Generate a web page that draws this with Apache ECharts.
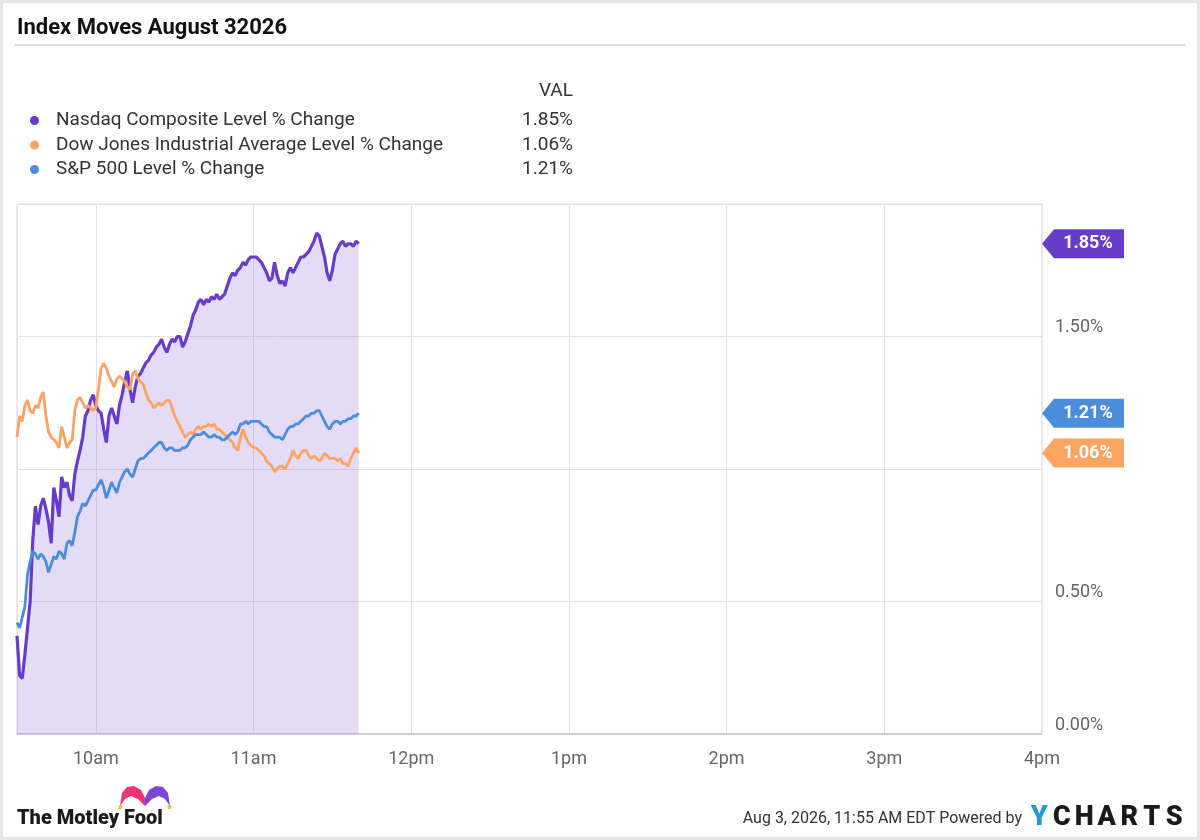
<!DOCTYPE html>
<html>
<head>
<meta charset="utf-8">
<script src="https://cdn.jsdelivr.net/npm/echarts@6.0.0/dist/echarts.min.js"></script>
<style>
  html, body { margin: 0; padding: 0; background: #ffffff; }
  #chart { width: 1200px; height: 840px; }
</style>
</head>
<body>
<div id="chart"></div>
<script>
// ---- Data ----
const seriesNames = [
  'Nasdaq Composite Level % Change',
  'Dow Jones Industrial Average Level % Change',
  'S&P 500 Level % Change'
];
const seriesColors = ['#673ccb', '#fda463', '#4a8ddc'];
const sessionStart = '09:30';
const sessionEnd = '16:00';
const stepMinutes = 1; // one reading per minute from 09:30

const nasdaq = [
  0.37,0.22,0.21,0.30,0.40,0.50,0.73,0.86,0.79,0.86,
  0.89,0.85,0.80,0.72,0.93,0.88,0.82,0.97,0.93,0.95,
  0.90,0.88,0.98,1.03,1.07,1.12,1.20,1.22,1.26,1.28,
  1.24,1.22,1.21,1.15,1.10,1.20,1.23,1.20,1.17,1.24,
  1.28,1.33,1.37,1.30,1.25,1.31,1.35,1.36,1.38,1.40,
  1.41,1.43,1.44,1.46,1.47,1.49,1.46,1.44,1.47,1.49,
  1.48,1.50,1.50,1.46,1.48,1.51,1.54,1.58,1.60,1.63,
  1.64,1.62,1.64,1.63,1.65,1.64,1.66,1.64,1.65,1.66,
  1.69,1.72,1.74,1.73,1.75,1.76,1.78,1.77,1.79,1.80,
  1.80,1.80,1.79,1.78,1.76,1.74,1.71,1.72,1.78,1.73,
  1.70,1.71,1.69,1.74,1.76,1.74,1.76,1.78,1.80,1.80,
  1.81,1.82,1.84,1.86,1.89,1.88,1.84,1.80,1.74,1.71,
  1.75,1.81,1.83,1.85,1.86,1.84,1.85,1.85,1.84,1.86,
  1.85
];
const dow = [
  1.12,1.20,1.18,1.24,1.26,1.22,1.21,1.24,1.23,1.27,
  1.29,1.20,1.14,1.12,1.11,1.10,1.08,1.16,1.12,1.08,
  1.10,1.11,1.22,1.26,1.27,1.25,1.23,1.24,1.23,1.22,
  1.23,1.30,1.38,1.40,1.38,1.35,1.33,1.31,1.34,1.35,
  1.34,1.33,1.31,1.30,1.36,1.37,1.34,1.33,1.32,1.29,
  1.26,1.25,1.23,1.24,1.25,1.24,1.25,1.26,1.26,1.23,
  1.20,1.18,1.16,1.14,1.12,1.13,1.14,1.13,1.15,1.16,
  1.15,1.16,1.16,1.17,1.16,1.17,1.15,1.15,1.14,1.13,
  1.12,1.11,1.10,1.08,1.07,1.12,1.15,1.12,1.10,1.09,
  1.08,1.08,1.07,1.06,1.05,1.03,1.02,1.01,0.99,1.00,
  1.01,1.01,1.00,1.02,1.04,1.07,1.05,1.04,1.06,1.07,
  1.07,1.05,1.04,1.05,1.04,1.03,1.04,1.06,1.05,1.04,
  1.04,1.04,1.03,1.04,1.02,1.02,1.01,1.04,1.06,1.08,
  1.06
];
const sp500 = [
  0.42,0.40,0.44,0.48,0.60,0.65,0.69,0.68,0.66,0.68,
  0.67,0.65,0.61,0.64,0.67,0.66,0.69,0.68,0.66,0.72,
  0.73,0.71,0.76,0.82,0.84,0.87,0.86,0.88,0.90,0.92,
  0.92,0.94,0.96,0.93,0.89,0.92,0.95,0.93,0.91,0.95,
  0.97,0.99,1.00,0.98,0.97,1.00,1.03,1.04,1.04,1.05,
  1.06,1.07,1.08,1.09,1.10,1.10,1.08,1.07,1.08,1.08,
  1.07,1.07,1.07,1.08,1.08,1.09,1.11,1.12,1.13,1.13,
  1.13,1.14,1.13,1.12,1.12,1.13,1.12,1.12,1.11,1.11,
  1.12,1.13,1.14,1.13,1.14,1.17,1.17,1.18,1.17,1.18,
  1.18,1.18,1.18,1.17,1.16,1.16,1.14,1.13,1.12,1.12,
  1.12,1.11,1.13,1.15,1.16,1.16,1.17,1.17,1.18,1.19,
  1.20,1.20,1.21,1.21,1.22,1.22,1.20,1.18,1.16,1.15,
  1.17,1.18,1.18,1.17,1.18,1.18,1.19,1.19,1.20,1.20,
  1.21
];
const yTicks = [0, 0.5, 1.0, 1.5, 2.0];
const yTickLabelsHidden = [1.0, 2.0];
const titleText = 'Index Moves August 32026';
const valHeader = 'VAL';
const footerText = 'Aug 3, 2026, 11:55 AM EDT Powered by';
const brandLeft = 'The Motley Fool';
const brandRightLetters = ['Y', 'C', 'H', 'A', 'R', 'T', 'S'];

// ---- Helpers ----
function toTs(hhmm) {
  const [h, m] = hhmm.split(':').map(Number);
  return new Date(2026, 7, 3, h, m, 0).getTime();
}
const t0 = toTs(sessionStart);
const tEnd = toTs(sessionEnd);
function withTime(arr) {
  return arr.map((v, i) => [t0 + i * stepMinutes * 60000, v]);
}
const allValues = [nasdaq, dow, sp500];
const lastVals = allValues.map(a => a[a.length - 1]);
const pct = v => v.toFixed(2) + '%';

function flag(idx) {
  return {
    silent: true,
    symbol: 'path://M0,14L12,0L82,0L82,28L12,28Z',
    symbolSize: [82, 29],
    symbolKeepAspect: false,
    symbolOffset: [41, 0],
    itemStyle: { color: seriesColors[idx] },
    label: {
      show: true, position: 'inside', offset: [5, 0],
      color: '#ffffff', fontWeight: 'bold', fontSize: 18, fontFamily: 'Roboto',
      formatter: () => pct(lastVals[idx])
    },
    z: 20,
    data: [{ coord: [tEnd, lastVals[idx]], value: lastVals[idx] }]
  };
}

const chart = echarts.init(document.getElementById('chart'), null, { renderer: 'canvas' });

const option = {
  animation: false,
  backgroundColor: '#ffffff',
  textStyle: { fontFamily: 'Roboto' },
  grid: {
    left: 17, right: 158, top: 204, bottom: 106,
    show: true, borderColor: '#d8d8d8', borderWidth: 1,
    outerBoundsMode: 'none'
  },
  legend: {
    orient: 'vertical', left: 25, top: 106,
    itemWidth: 33, itemHeight: 9, itemGap: 5.5,
    icon: 'circle',
    selectedMode: false,
    itemStyle: { borderWidth: 0 },
    data: seriesNames,
    formatter: name => {
      const i = seriesNames.indexOf(name);
      return '{n|' + name + '}{v|' + pct(lastVals[i]) + '}';
    },
    textStyle: {
      color: '#333', fontSize: 19, fontFamily: 'Roboto',
      rich: {
        n: { width: 457, fontSize: 19, color: '#333', lineHeight: 20, fontFamily: 'Roboto' },
        v: { width: 60, align: 'right', fontSize: 19, color: '#333', lineHeight: 20, fontFamily: 'Roboto' }
      }
    }
  },
  xAxis: {
    type: 'time',
    min: t0, max: tEnd,
    minInterval: 3600000, maxInterval: 3600000,
    axisLine: { show: true, lineStyle: { color: '#c8c8c8', width: 1.5 } },
    axisTick: { show: false },
    splitLine: { show: true, lineStyle: { color: '#e3e3e3', width: 1 } },
    axisLabel: {
      color: '#666', fontSize: 18, fontFamily: 'Roboto', margin: 16,
      hideOverlap: false, showMaxLabel: true, showMinLabel: true,
      formatter: (val) => {
        const d = new Date(val);
        if (d.getMinutes() !== 0) return '';
        const h = d.getHours();
        return (h % 12 || 12) + (h < 12 ? 'am' : 'pm');
      }
    }
  },
  yAxis: {
    type: 'value', position: 'right',
    min: yTicks[0], max: yTicks[yTicks.length - 1], interval: 0.5,
    axisLine: { show: false },
    axisTick: { show: false },
    splitLine: { show: true, lineStyle: { color: '#e3e3e3', width: 1 } },
    axisLabel: {
      color: '#666', fontSize: 18, fontFamily: 'Roboto', margin: 13,
      verticalAlign: 'bottom',
      formatter: v => yTickLabelsHidden.some(h => Math.abs(h - v) < 1e-9) ? '' : pct(v)
    }
  },
  series: [
    {
      name: seriesNames[0], type: 'line', data: withTime(nasdaq),
      symbol: 'none', showSymbol: false, clip: false, z: 2,
      lineStyle: { color: seriesColors[0], width: 3.2 },
      itemStyle: { color: seriesColors[0] },
      areaStyle: { color: 'rgba(103,60,203,0.26)' },
      markPoint: flag(0)
    },
    {
      name: seriesNames[1], type: 'line', data: withTime(dow),
      symbol: 'none', showSymbol: false, clip: false, z: 3,
      lineStyle: { color: seriesColors[1], width: 2.8 },
      itemStyle: { color: seriesColors[1] },
      markPoint: flag(1)
    },
    {
      name: seriesNames[2], type: 'line', data: withTime(sp500),
      symbol: 'none', showSymbol: false, clip: false, z: 4,
      lineStyle: { color: seriesColors[2], width: 2.8 },
      itemStyle: { color: seriesColors[2] },
      markPoint: flag(2)
    }
  ],
  graphic: [
    { type: 'rect', silent: true, z: 100,
      shape: { x: 0, y: 0, width: 1200, height: 840 },
      style: { fill: 'none', stroke: '#e6e6e6', lineWidth: 6 } },
    { type: 'text', silent: true, x: 17, y: 28,
      style: { text: titleText, fontFamily: 'Roboto', fontWeight: 'bold', fontSize: 22,
               fill: '#111', align: 'left', verticalAlign: 'middle' } },
    { type: 'line', silent: true,
      shape: { x1: 15, y1: 45, x2: 1185, y2: 45 },
      style: { stroke: '#d0d0d0', lineWidth: 1.5 } },
    { type: 'text', silent: true, x: 573, y: 91,
      style: { text: valHeader, fontFamily: 'Roboto', fontSize: 19, fill: '#333',
               align: 'right', verticalAlign: 'middle' } },
    // Motley Fool jester hat
    { type: 'polygon', silent: true,
      shape: { points: [[145,798],[141,790],[134,786],[127,787],[122,793],[120,806],[125,799],[131,796],[138,799],[145,806]] },
      style: { fill: '#f2336f' } },
    { type: 'polygon', silent: true,
      shape: { points: [[145,798],[149,790],[156,786],[163,787],[168,793],[170,806],[165,799],[159,796],[152,799],[145,806]] },
      style: { fill: '#7c47d8' } },
    { type: 'circle', silent: true, shape: { cx: 120.5, cy: 807, r: 2.2 }, style: { fill: '#f5c242' } },
    { type: 'circle', silent: true, shape: { cx: 169.5, cy: 807, r: 2.2 }, style: { fill: '#f5c242' } },
    { type: 'text', silent: true, x: 17, y: 819,
      style: { text: brandLeft, fontFamily: 'Roboto', fontWeight: 900, fontSize: 20,
               fill: '#1a1a1a', align: 'left', verticalAlign: 'middle' } },
    { type: 'text', silent: true, x: 1022, y: 819,
      style: { text: footerText, fontFamily: 'Roboto', fontSize: 16, fill: '#333',
               align: 'right', verticalAlign: 'middle' } },
    { type: 'text', silent: true, x: 1028, y: 818,
      style: {
        text: brandRightLetters.map((c, i) => (i === 0 ? '{b|' : '{k|') + c + '}').join(''),
        align: 'left', verticalAlign: 'middle',
        rich: {
          b: { fill: '#1e9ad8', fontSize: 27, fontWeight: 900, fontFamily: 'Roboto', width: 22.5, align: 'center' },
          k: { fill: '#1a1a1a', fontSize: 27, fontWeight: 900, fontFamily: 'Roboto', width: 22.5, align: 'center' }
        }
      } }
  ]
};
chart.setOption(option);
</script>
</body>
</html>
